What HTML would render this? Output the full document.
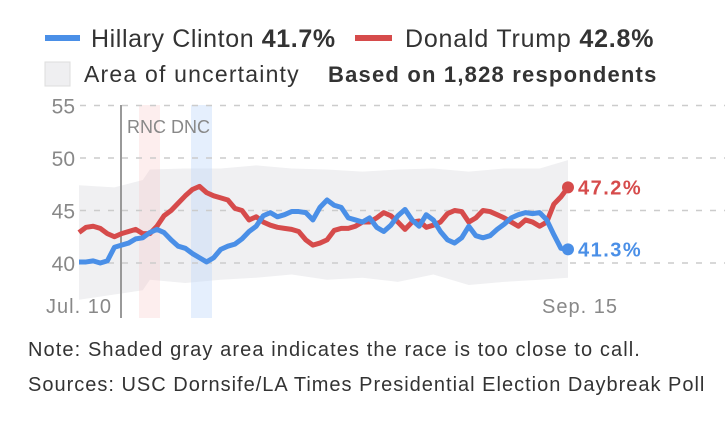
<!DOCTYPE html>
<html><head><meta charset="utf-8"><style>
body{margin:0;background:#fff;width:728px;height:423px;overflow:hidden;font-family:"Liberation Sans",sans-serif}
</style></head><body>
<svg width="728" height="423" font-family="Liberation Sans, sans-serif">
<g>
<line x1="45" y1="38" x2="80" y2="38" stroke="#4a8fe7" stroke-width="6"/>
<text x="91" y="47" font-size="25" letter-spacing="0.6" fill="#333">Hillary Clinton <tspan font-weight="bold">41.7%</tspan></text>
<line x1="355" y1="38" x2="392" y2="38" stroke="#d64b4b" stroke-width="6"/>
<text x="405" y="47" font-size="25" letter-spacing="0.8" fill="#333">Donald Trump <tspan font-weight="bold">42.8%</tspan></text>
<rect x="45" y="62" width="25" height="24" fill="#efeff1" stroke="#ddd"/>
<text x="84" y="82" font-size="23" letter-spacing="1.2" fill="#333">Area of uncertainty</text>
<text x="328" y="82" font-size="22" letter-spacing="1.2" font-weight="bold" fill="#333">Based on 1,828 respondents</text>
</g>
<g id="plot"></g>
<text x="28" y="356" font-size="20" letter-spacing="1.1" fill="#333">Note: Shaded gray area indicates the race is too close to call.</text>
<text x="28" y="391" font-size="20" letter-spacing="1" fill="#333">Sources: USC Dornsife/LA Times Presidential Election Daybreak Poll</text>
</svg>
<script>
const yTicks=[40,45,50,55];
const trump=[42.9,43.4,43.5,43.3,42.8,42.5,42.8,43.0,43.2,42.8,42.8,43.5,44.5,45.0,45.7,46.4,47.0,47.3,46.7,46.4,46.2,46.0,45.2,45.0,44.1,44.4,43.9,43.6,43.4,43.3,43.2,43.0,42.2,41.7,41.9,42.2,43.1,43.3,43.3,43.5,43.9,43.9,44.3,44.8,44.5,43.9,43.2,43.9,44.0,43.4,43.6,43.9,44.7,45.0,44.9,43.9,44.3,45.0,44.9,44.6,44.3,43.9,43.5,44.1,43.9,43.5,43.9,45.6,46.3,47.2];
const clinton=[40.1,40.1,40.2,40.0,40.2,41.5,41.7,41.9,42.3,42.4,42.9,43.2,42.9,42.2,41.6,41.4,40.9,40.5,40.1,40.5,41.3,41.6,41.8,42.3,43.0,43.5,44.5,44.8,44.4,44.6,44.9,44.9,44.8,44.1,45.3,46.0,45.5,45.3,44.3,44.1,43.9,44.3,43.4,43.0,43.6,44.5,45.1,44.1,43.5,44.6,44.1,43.0,42.2,41.9,42.4,43.5,42.6,42.4,42.6,43.2,43.7,44.3,44.6,44.8,44.7,44.8,44.1,42.7,41.4,41.3];
const bandDays=[0,5,9,10,15,20,25,30,35,40,45,50,55,60,65,69];
const bandUpper=[47.4,47.2,47.9,48.9,49.0,49.0,49.3,49.0,48.9,48.7,48.9,49.0,48.7,49.0,49.0,49.8];
const bandLower=[36.5,37.0,37.4,38.4,38.1,38.4,38.6,38.9,38.4,38.6,38.2,38.9,37.9,38.2,38.4,38.6];
const xLabels=["Jul. 10","Sep. 15"];
const NS="http://www.w3.org/2000/svg";
const X=i=>79+i*(568-79)/(trump.length-1);
const Y=v=>263-(v-40)*10.5;
const g=document.getElementById('plot');
function mk(t,a,p){const e=document.createElementNS(NS,t);for(const k in a)e.setAttribute(k,a[k]);(p||g).appendChild(e);return e;}
let pts=bandDays.map((d,i)=>X(d)+','+Y(bandUpper[i])).concat(bandDays.slice().reverse().map((d,j)=>{const i=bandDays.length-1-j;return X(d)+','+Y(bandLower[i]);}));
let band=mk('polygon',{points:pts.join(' '),fill:'#f0f0f2'});


let r=mk('rect',{x:139,y:105,width:21,height:213,fill:'rgba(250,200,200,0.3)'});


let d=mk('rect',{x:191,y:105,width:21,height:213,fill:'rgba(190,215,250,0.4)'});


yTicks.forEach(t=>{
 let l=mk('line',{x1:80,x2:725,y1:Y(t),y2:Y(t),stroke:'#ccc','stroke-width':1.5,'stroke-dasharray':'6,8'});
 
 
 let tx=mk('text',{x:75,y:Y(t)+8,'font-size':21,fill:'#888','text-anchor':'end'});tx.textContent=t;
 
 
});
let vl=mk('line',{x1:121,x2:121,y1:105,y2:318,stroke:'#999','stroke-width':2});


let ct=mk('text',{x:127,y:133,'font-size':18,fill:'#888'});ct.textContent='RNC DNC';


[[0,xLabels[0]],[trump.length-1,xLabels[1]]].forEach(([i,s],k)=>{
 let t=mk('text',{x:X(i)+(k?12:0),y:313,'font-size':20,'letter-spacing':1,fill:'#888','text-anchor':'middle'});t.textContent=s;
 
 
});
function line(arr,col,name){
 let p=mk('polyline',{points:arr.map((v,i)=>X(i)+','+Y(v)).join(' '),fill:'none',stroke:col,'stroke-width':5,'stroke-linejoin':'round'});
 
 
 const n=arr.length-1;
 let c=mk('circle',{cx:X(n),cy:Y(arr[n]),r:6,fill:col});
 
 
 let t=mk('text',{x:X(n)+10,y:Y(arr[n])+7,'font-size':20,'letter-spacing':1.5,'font-weight':'bold',fill:col});t.textContent=arr[n].toFixed(1)+'%';
 
 
}
line(trump,'#d64b4b','trump');
line(clinton,'#4a8fe7','clinton');
</script>
</body></html>
